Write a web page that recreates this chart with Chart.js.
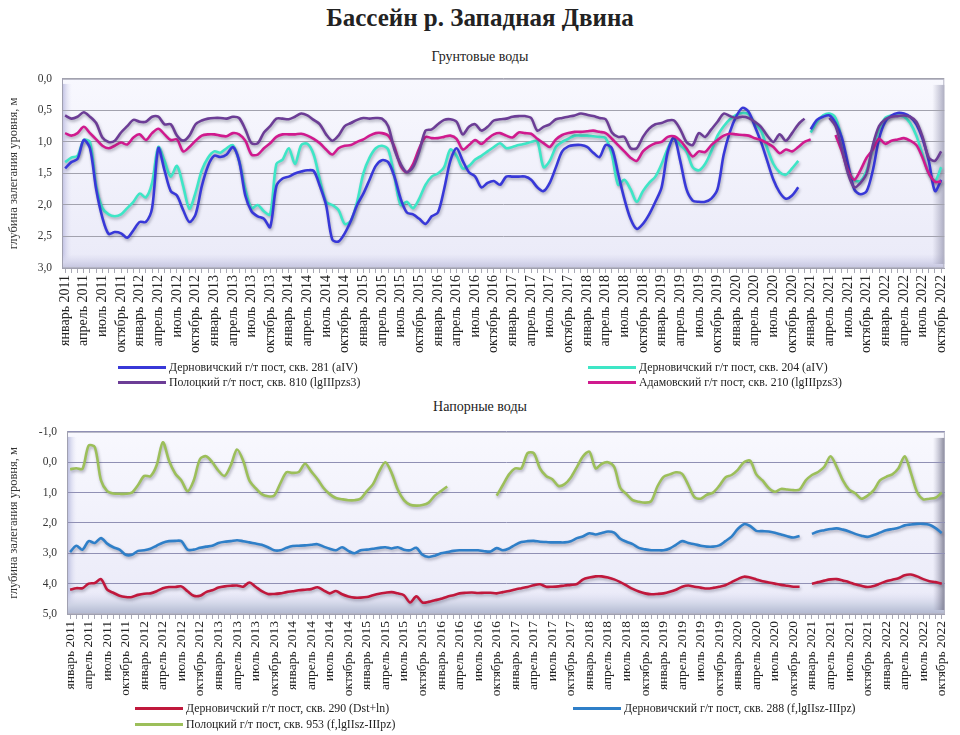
<!DOCTYPE html>
<html><head><meta charset="utf-8">
<script src="https://cdn.jsdelivr.net/npm/chart.js@4.4.1/dist/chart.umd.min.js"></script>
<style>
body{margin:0;background:#fff;width:960px;height:735px;position:relative;overflow:hidden;font-family:"Liberation Serif","Times New Roman",serif;color:#222}
.abs{position:absolute}
#title{left:0;width:960px;top:4px;text-align:center;font-weight:bold;font-size:25px}
.sub{position:absolute;left:0;width:960px;text-align:center;font-size:14px;color:#222}
.lg{position:absolute;font-size:11.8px;white-space:nowrap;display:flex;align-items:center;color:#222}
.lg i{display:inline-block;width:48px;height:3px;margin-right:3px}
canvas{position:absolute;left:0}
</style></head>
<body>
<div id="title" class="abs">Бассейн р. Западная Двина</div>
<div class="sub" style="top:49px">Грунтовые воды</div>
<canvas id="c1" width="960" height="300" style="top:62px"></canvas>
<div class="sub" style="top:399px">Напорные воды</div>
<canvas id="c2" width="960" height="292" style="top:415px"></canvas>
<div class="lg" style="left:118px;top:360px"><i style="background:#3838d8"></i>Дерновичский г/т пост, скв. 281 (aIV)</div>
<div class="lg" style="left:118px;top:375px"><i style="background:#6c3d96"></i>Полоцкий г/т пост, скв. 810 (lgIIIpzs3)</div>
<div class="lg" style="left:588px;top:360px"><i style="background:#3ee6c6"></i>Дерновичский г/т пост, скв. 204 (aIV)</div>
<div class="lg" style="left:588px;top:375px"><i style="background:#d01a8e"></i>Адамовский г/т пост, скв. 210 (lgIIIpzs3)</div>
<div class="lg" style="left:135px;top:701px"><i style="background:#c0183c"></i>Дерновичский г/т пост, скв. 290 (Dst+ln)</div>
<div class="lg" style="left:135px;top:717px"><i style="background:#9cbf5a"></i>Полоцкий г/т пост, скв. 953 (f,lgIIsz-IIIpz)</div>
<div class="lg" style="left:573px;top:701px"><i style="background:#2f7fc8"></i>Дерновичский г/т пост, скв. 288 (f,lgIIsz-IIIpz)</div>
<script>
// ---- categories / tick labels ----
const monthNames = ['январь','февраль','март','апрель','май','июнь','июль','август','сентябрь','октябрь','ноябрь','декабрь'];
const years = [2011,2012,2013,2014,2015,2016,2017,2018,2019,2020,2021,2022];
const lastMonthIndex = 9; // октябрь 2022
const categories = [];
years.forEach((y, yi) => monthNames.forEach((m, mi) => {
  if (yi < years.length - 1 || mi <= lastMonthIndex) categories.push(m + ' ' + y);
}));
const topTicks = [0, 0.5, 1, 1.5, 2, 2.5, 3];
const bottomTicks = [-1, 0, 1, 2, 3, 4, 5];

// ---- Грунтовые воды (м) ----
const s281 = [1.42,1.32,1.27,0.97,1.1,1.75,2.2,2.46,2.43,2.45,
 2.52,2.4,2.27,2.27,2.05,1.1,1.45,1.78,1.85,2.08,
 2.27,2.15,1.7,1.38,1.22,1.24,1.2,1.08,1.3,1.85,
 2.1,2.18,2.22,2.35,1.7,1.58,1.55,1.5,1.47,1.45,
 1.46,1.7,2.0,2.55,2.58,2.45,2.25,2.0,1.82,1.6,
 1.38,1.29,1.32,1.55,1.9,2.12,2.15,2.22,2.3,2.18,
 2.12,1.75,1.3,1.1,1.3,1.48,1.55,1.72,1.65,1.62,
 1.68,1.55,1.55,1.55,1.55,1.6,1.72,1.78,1.65,1.4,
 1.15,1.07,1.05,1.05,1.08,1.17,1.24,1.05,1.1,1.5,
 1.9,2.22,2.38,2.3,2.15,1.95,1.72,1.15,0.93,1.3,
 1.75,1.93,1.95,1.95,1.9,1.75,1.2,0.84,0.6,0.46,
 0.52,0.75,1.0,1.3,1.6,1.8,1.9,1.85,1.72,null,
 0.8,0.65,0.6,0.58,0.7,0.93,1.35,1.75,1.83,1.78,
 1.45,0.95,0.68,0.58,0.54,0.55,0.6,0.72,0.95,1.3,
 1.78,1.6];
const s204 = [1.32,1.25,1.22,0.97,1.0,1.7,2.05,2.15,2.18,2.15,
 2.05,1.95,1.82,1.88,1.65,1.08,1.3,1.55,1.38,1.7,
 2.06,1.8,1.45,1.25,1.15,1.17,1.1,1.05,1.3,1.75,
 2.05,2.0,2.1,2.15,1.35,1.28,1.1,1.35,1.05,1.03,
 1.2,1.6,1.95,2.0,2.08,2.3,2.25,1.95,1.5,1.25,
 1.1,1.06,1.12,1.55,2.0,1.95,2.05,1.9,1.68,1.55,
 1.5,1.4,1.12,1.22,1.42,1.38,1.28,1.22,1.15,1.08,
 1.02,1.1,1.08,1.05,1.03,1.0,0.99,1.4,1.3,1.08,
 1.0,0.95,0.9,0.9,0.9,0.91,0.92,0.94,1.2,1.68,
 1.6,1.75,1.95,1.78,1.65,1.55,1.35,1.1,0.93,1.05,
 1.15,1.4,1.45,1.35,1.15,0.9,0.75,0.64,0.57,0.54,
 0.56,0.7,0.82,1.1,1.35,1.48,1.52,1.42,1.3,null,
 0.85,0.68,0.58,0.55,0.62,0.95,1.45,1.6,1.62,1.45,
 1.1,0.8,0.62,0.58,0.58,0.6,0.7,0.9,1.2,1.5,
 1.62,1.4];
const s810 = [0.58,0.63,0.6,0.53,0.6,0.7,0.93,1.0,0.98,0.85,
 0.75,0.65,0.68,0.68,0.6,0.6,0.72,0.72,0.9,0.98,
 0.9,0.72,0.66,0.63,0.62,0.62,0.63,0.6,0.62,0.8,
 1.02,1.02,0.85,0.75,0.63,0.63,0.64,0.6,0.55,0.58,
 0.65,0.72,0.88,0.98,0.9,0.75,0.7,0.65,0.62,0.63,
 0.62,0.63,0.75,1.12,1.35,1.48,1.4,1.15,0.82,0.8,
 0.72,0.65,0.64,0.68,0.88,0.76,0.72,0.82,0.76,0.66,
 0.64,0.63,0.6,0.59,0.59,0.62,0.82,0.76,0.72,0.64,
 0.62,0.6,0.58,0.55,0.57,0.59,0.62,0.64,0.85,0.92,
 0.92,1.1,1.1,0.92,0.79,0.72,0.7,0.66,0.66,0.8,
 1.0,1.05,0.86,0.92,0.8,0.68,0.55,0.59,0.62,0.6,
 0.62,0.68,0.76,0.9,1.0,0.88,0.98,0.86,0.72,0.63,
 null,null,null,0.62,0.75,1.1,1.5,1.72,1.65,1.5,
 1.05,0.75,0.64,0.6,0.59,0.58,0.6,0.68,0.92,1.25,
 1.3,1.15];
const s210 = [0.86,0.9,0.86,0.76,0.86,0.96,1.06,1.1,1.06,1.01,
 1.04,0.93,0.88,0.97,0.86,0.79,0.88,0.97,0.96,1.15,
 1.08,0.98,0.9,0.88,0.88,0.9,0.91,0.86,0.88,0.98,
 1.2,1.2,1.1,1.02,0.92,0.88,0.88,0.88,0.87,0.9,
 0.95,1.02,1.12,1.2,1.1,1.06,1.05,1.0,0.96,0.9,
 0.86,0.86,0.9,1.08,1.38,1.48,1.35,1.1,0.92,0.94,
 0.94,0.92,0.9,0.95,1.12,1.05,0.97,1.03,0.95,0.88,
 0.86,0.9,0.93,0.85,0.86,0.87,0.95,1.02,1.08,0.96,
 0.89,0.86,0.84,0.84,0.83,0.82,0.84,0.86,0.95,1.05,
 1.15,1.25,1.3,1.15,1.07,1.02,1.0,0.92,0.91,0.98,
 1.1,1.23,1.15,1.16,1.05,0.97,0.9,0.87,0.88,0.89,
 0.9,0.94,0.97,1.02,1.08,1.18,1.12,1.15,1.08,1.0,
 0.96,null,null,null,0.89,1.15,1.45,1.6,1.45,1.25,
 1.12,0.95,1.03,0.98,0.96,0.94,0.98,1.05,1.25,1.5,
 1.63,1.63];

// ---- Напорные воды (м) ----
const s290 = [4.2,4.15,4.15,4.0,3.98,3.85,4.2,4.3,4.4,4.44,
 4.44,4.37,4.33,4.32,4.25,4.15,4.11,4.11,4.09,4.25,
 4.4,4.4,4.28,4.22,4.13,4.09,4.07,4.06,4.1,3.96,
 4.1,4.25,4.34,4.34,4.32,4.28,4.25,4.22,4.2,4.18,
 4.12,4.22,4.32,4.24,4.35,4.42,4.46,4.46,4.44,4.38,
 4.33,4.3,4.28,4.32,4.38,4.62,4.42,4.62,4.6,4.55,
 4.5,4.43,4.38,4.32,4.3,4.29,4.31,4.3,4.3,4.32,
 4.28,4.24,4.19,4.15,4.11,4.05,4.02,4.1,4.1,4.09,
 4.06,4.04,4.01,3.86,3.8,3.76,3.76,3.8,3.86,3.95,
 4.06,4.17,4.26,4.32,4.35,4.34,4.32,4.27,4.2,4.1,
 4.06,4.1,4.13,4.16,4.14,4.1,4.05,3.95,3.85,3.77,
 3.8,3.86,3.92,3.96,4.0,4.04,4.07,4.1,4.1,null,
 4.0,3.95,3.9,3.86,3.85,3.9,3.95,4.02,4.07,4.11,
 4.08,4.0,3.92,3.87,3.82,3.72,3.7,3.76,3.85,3.92,
 3.95,4.0];
const s288 = [2.96,2.75,2.88,2.6,2.66,2.5,2.68,2.8,2.88,3.05,
 3.05,2.92,2.9,2.85,2.75,2.65,2.6,2.59,2.6,2.88,
 2.88,2.82,2.78,2.75,2.66,2.62,2.6,2.57,2.6,2.64,
 2.68,2.72,2.8,2.9,2.9,2.82,2.76,2.75,2.74,2.72,
 2.7,2.78,2.85,2.9,2.8,2.92,3.0,2.9,2.88,2.85,
 2.82,2.8,2.84,2.8,2.88,2.9,2.82,3.05,3.12,3.08,
 3.0,2.96,2.92,2.9,2.9,2.9,2.9,2.93,2.94,2.83,
 2.9,2.84,2.72,2.63,2.6,2.59,2.62,2.63,2.64,2.64,
 2.64,2.6,2.5,2.44,2.34,2.38,2.33,2.28,2.32,2.52,
 2.62,2.7,2.82,2.87,2.9,2.9,2.9,2.84,2.72,2.6,
 2.66,2.7,2.75,2.78,2.78,2.74,2.6,2.45,2.2,2.04,
 2.1,2.26,2.27,2.28,2.32,2.38,2.44,2.48,2.43,null,
 2.36,2.28,2.24,2.2,2.18,2.22,2.28,2.36,2.42,2.46,
 2.4,2.32,2.24,2.2,2.16,2.08,2.05,2.03,2.03,2.06,
 2.17,2.33];
const s953 = [0.23,0.2,0.22,-0.55,-0.5,0.6,0.95,1.03,1.04,1.04,
 1.0,0.75,0.45,0.46,0.1,-0.66,-0.05,0.37,0.6,0.95,
 0.6,-0.1,-0.2,0.0,0.28,0.45,0.1,-0.42,-0.05,0.6,
 0.85,1.05,1.12,1.1,0.7,0.33,0.35,0.32,0.05,0.3,
 0.55,0.85,1.05,1.18,1.22,1.25,1.25,1.2,0.95,0.72,
 0.3,0.0,0.35,0.9,1.25,1.4,1.43,1.41,1.33,1.1,
 0.95,0.8,null,null,null,null,null,null,null,1.1,
 0.75,0.4,0.2,0.2,-0.3,-0.3,0.2,0.45,0.56,0.78,
 0.72,0.5,0.15,-0.2,-0.35,0.2,0.05,0.0,0.15,0.85,
 1.05,1.25,1.3,1.33,1.28,0.8,0.48,0.4,0.33,0.38,
 0.75,1.15,1.2,1.07,1.0,0.78,0.5,0.42,0.25,0.0,
 -0.05,0.4,0.6,0.85,0.97,0.88,0.9,0.92,0.9,0.6,
 0.42,0.32,0.15,-0.2,0.15,0.6,0.9,1.02,1.2,1.1,
 0.92,0.6,0.48,0.4,0.2,-0.2,0.35,0.98,1.22,1.2,
 1.17,1.0];

const SERIF = '"Liberation Serif","Times New Roman",serif';
const fmt = v => v.toFixed(1).replace('.', ',');

const wallPlugin = {
  id: 'wall',
  beforeDraw(chart, args, o) {
    const {ctx, chartArea: a} = chart;
    const w = a.right - a.left, h = a.bottom - a.top;
    ctx.save();
    let g = ctx.createLinearGradient(0, a.top, 0, a.bottom);
    g.addColorStop(0, '#f8f8fe'); g.addColorStop(1, '#eaeaf8');
    ctx.fillStyle = g; ctx.fillRect(a.left, a.top, w, h);
    // left wall
    g = ctx.createLinearGradient(a.left, 0, a.left + 10, 0);
    g.addColorStop(0, o.side); g.addColorStop(1, 'rgba(230,230,246,0)');
    ctx.fillStyle = g; ctx.fillRect(a.left, a.top + 5, 10, h - 5);
    // floor
    g = ctx.createLinearGradient(0, a.bottom - o.floorH, 0, a.bottom);
    g.addColorStop(0, 'rgba(220,220,240,0)'); g.addColorStop(0.6, o.floor); g.addColorStop(1, o.floor2);
    ctx.fillStyle = g; ctx.fillRect(a.left, a.bottom - o.floorH, w, o.floorH);
    // right edge
    g = ctx.createLinearGradient(a.right - 12, 0, a.right, 0);
    g.addColorStop(0, 'rgba(160,160,185,0)'); g.addColorStop(1, o.right);
    ctx.fillStyle = g; ctx.fillRect(a.right - 12, a.top + 6, 12, h - 10);
    ctx.strokeStyle = '#b4b4c4'; ctx.lineWidth = 1;
    ctx.strokeRect(a.left + 0.5, a.top + 0.5, w - 1, h - 1);
    ctx.restore();
  }
};
const shadowPlugin = {
  id: 'shadow',
  beforeDatasetsDraw(chart) {
    const ctx = chart.ctx; ctx.save();
    ctx.shadowColor = 'rgba(40,40,70,0.35)'; ctx.shadowBlur = 3;
    ctx.shadowOffsetX = 1; ctx.shadowOffsetY = 2;
  },
  afterDatasetsDraw(chart) { chart.ctx.restore(); }
};

function ds(label, data, color) {
  return {label, data, borderColor: color, backgroundColor: color, borderWidth: 2.6,
    pointRadius: 0, tension: 0.3, spanGaps: false, fill: false};
}

function makeChart(id, datasets, yTicks, yStep, pad, yWidth, xHeight, gridColor, wall, xFont) {
  return new Chart(document.getElementById(id), {
    type: 'line',
    data: {labels: categories, datasets},
    options: {
      responsive: false, animation: false,
      layout: {padding: pad},
      plugins: {legend: {display: false}, tooltip: {enabled: false}, wall},
      scales: {
        x: {
          offset: true,
          afterFit(s) { s.height = xHeight; },
          grid: {display: true, drawOnChartArea: false, drawTicks: true, tickLength: 5, color: '#a8a8b4'},
          border: {display: true, color: '#a0a0b0'},
          ticks: {autoSkip: false, maxRotation: 90, minRotation: 90, padding: 2,
            color: '#222', font: {family: SERIF, size: xFont},
            callback: (v, i) => (i % 3 === 0 ? categories[i] : '')}
        },
        y: {
          reverse: true, min: yTicks[0], max: yTicks[yTicks.length - 1],
          afterFit(s) { s.width = yWidth; },
          grid: {color: gridColor, lineWidth: 1, drawTicks: false},
          border: {display: true, color: '#a0a0b0'},
          ticks: {stepSize: yStep, padding: 10, color: '#333', font: {family: SERIF, size: 11.5},
            callback: v => fmt(v)},
          title: {display: true, text: 'глубина залегания уровня, м', color: '#333',
            font: {family: SERIF, size: 12.5}, padding: {top: 6, bottom: 0}}
        }
      }
    },
    plugins: [wallPlugin, shadowPlugin]
  });
}

makeChart('c1', [
  ds('Полоцкий г/т пост, скв. 810 (lgIIIpzs3)', s810, '#6c3d96'),
  ds('Адамовский г/т пост, скв. 210 (lgIIIpzs3)', s210, '#d01a8e'),
  ds('Дерновичский г/т пост, скв. 281 (aIV)', s281, '#3838d8'),
  ds('Дерновичский г/т пост, скв. 204 (aIV)', s204, '#3ee6c6')
], topTicks, 0.5, {top: 10, right: 3, left: 0, bottom: 0}, 62, 94, '#a2a2ae',
  {side: '#bcbce0', floor: '#d6d6ec', floor2: '#c4c4de', floorH: 14, right: 'rgba(150,150,175,0.75)'}, 14);

makeChart('c2', [
  ds('Дерновичский г/т пост, скв. 290 (Dst+ln)', s290, '#c0183c'),
  ds('Дерновичский г/т пост, скв. 288 (f,lgIIsz-IIIpz)', s288, '#2f7fc8'),
  ds('Полоцкий г/т пост, скв. 953 (f,lgIIsz-IIIpz)', s953, '#9cbf5a')
], bottomTicks, 1, {top: 8, right: 7, left: 0, bottom: 0}, 67, 93, '#9090b4',
  {side: '#b4b8dc', floor: '#cdd2e4', floor2: '#b2b8d0', floorH: 22, right: 'rgba(110,110,130,0.85)'}, 13.5);
</script>
</body></html>
